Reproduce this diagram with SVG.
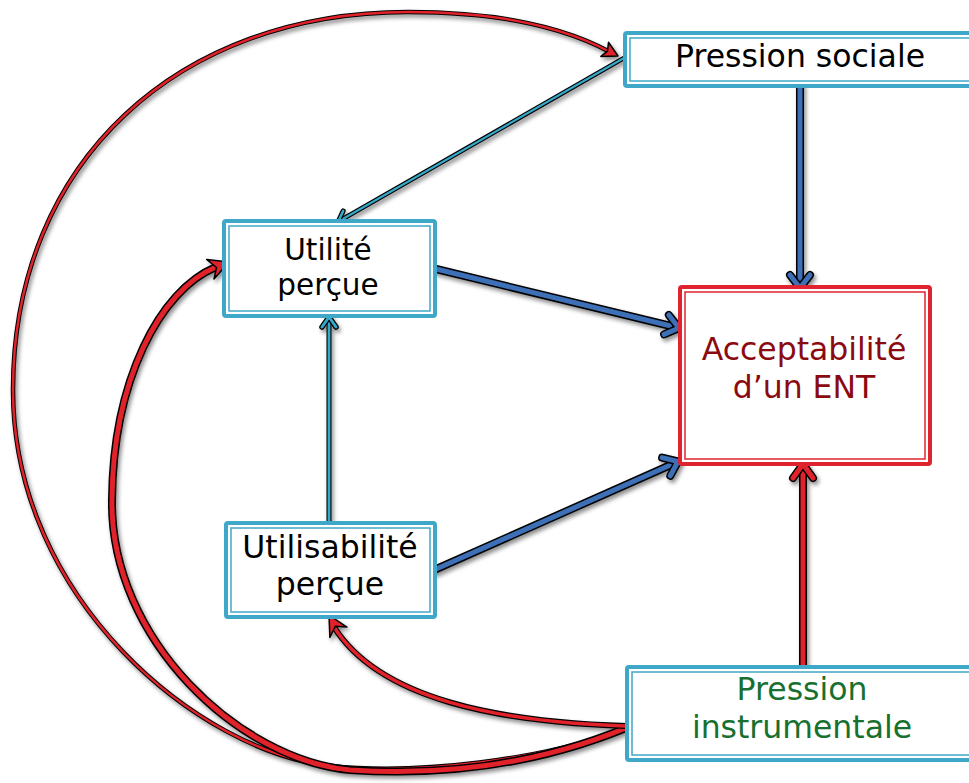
<svg xmlns="http://www.w3.org/2000/svg" width="969" height="783" viewBox="0 0 969 783">
<defs>
<filter id="sh" x="-10%" y="-10%" width="120%" height="120%">
<feDropShadow dx="2" dy="3" stdDeviation="2" flood-color="#000" flood-opacity="0.45"/>
</filter>
</defs>
<style>
.bo{fill:#fff;stroke:#3fa8c8;stroke-width:4}
.bi{fill:none;stroke:#3fa8c8;stroke-width:1.5}
.ro{fill:#fff;stroke:#e0242f;stroke-width:4}
.ri{fill:none;stroke:#e0242f;stroke-width:1.5}
.t{font-family:"DejaVu Sans","Liberation Sans",sans-serif;font-size:31.5px;text-anchor:middle;fill:#000}
.s{font-size:29.5px}
.k{fill:none;stroke:#000;stroke-linecap:round;stroke-linejoin:round}
.c{fill:none;stroke-linecap:round;stroke-linejoin:round}
.blue{stroke:#3d6fb6}
.red{stroke:#e1232c}
.cyan{stroke:#35a9c9}
.ah{stroke:#000;stroke-width:1.5;stroke-linejoin:round}
</style>
<rect width="969" height="783" fill="#fff"/>
<g id="connectors" filter="url(#sh)">
<path class="k" stroke-width="4.5" d="M626,729 C540,760 420,775 330,766 C200,752 13,600 13,390 C13,160 180,12 408,12 C490,12 560,25 610,52"/>
<path class="c red" stroke-width="2.5" d="M626,729 C540,760 420,775 330,766 C200,752 13,600 13,390 C13,160 180,12 408,12 C490,12 560,25 610,52"/>
<polygon class="ah" fill="#e1232c" points="618,56 600.9,56.4 607.5,51.2 608.5,42.3"/>
<path class="k" stroke-width="8" d="M626,728 C560,755 470,778 350,770 C240,760 110,640 112,500 C113,380 160,290 216,267"/>
<path class="c red" stroke-width="5" d="M626,728 C560,755 470,778 350,770 C240,760 110,640 112,500 C113,380 160,290 216,267"/>
<polygon class="ah" fill="#e1232c" points="229,262 214,279 216.5,267.5 206.6,259.4"/>
<path class="k" stroke-width="6" d="M626,726 C500,722 380,700 334,627"/>
<path class="c red" stroke-width="3.5" d="M626,726 C500,722 380,700 334,627"/>
<polygon class="ah" fill="#e1232c" points="329,615 346.9,627.1 335.3,626.2 329.9,637.5"/>
<path class="k" stroke-width="4.5" d="M624,58 L341,220"/>
<path class="c cyan" stroke-width="2.2" d="M624,58 L341,220"/>
<polyline class="k" stroke-width="5" points="343.2,210.9 338,222 350.2,223.1"/>
<polyline class="c cyan" stroke-width="2.5" points="343.2,210.9 338,222 350.2,223.1"/>
<path class="k" stroke-width="5" d="M329,521 L329,319"/>
<path class="c cyan" stroke-width="2.8" d="M329,521 L329,319"/>
<polyline class="k" stroke-width="5.5" points="322,327 329,317 336,327"/>
<polyline class="c cyan" stroke-width="3" points="322,327 329,317 336,327"/>
<path class="k" stroke-width="8" d="M432,268 L675,327"/>
<path class="c blue" stroke-width="5" d="M432,268 L675,327"/>
<polyline class="k" stroke-width="8" points="664.1,334.4 679,328 668.8,315"/>
<polyline class="c blue" stroke-width="5" points="664.1,334.4 679,328 668.8,315"/>
<path class="k" stroke-width="8" d="M434,570 L675,463"/>
<path class="c blue" stroke-width="5" d="M434,570 L675,463"/>
<polyline class="k" stroke-width="8" points="670.3,475.8 678,461.5 662.1,457.6"/>
<polyline class="c blue" stroke-width="5" points="670.3,475.8 678,461.5 662.1,457.6"/>
<path class="k" stroke-width="8" d="M800,86 L800,284"/>
<path class="c blue" stroke-width="5" d="M800,86 L800,284"/>
<polyline class="k" stroke-width="8" points="790,275 800,288 810,275"/>
<polyline class="c blue" stroke-width="5" points="790,275 800,288 810,275"/>
<path class="k" stroke-width="8" d="M803,666 L803,468"/>
<path class="c red" stroke-width="5" d="M803,666 L803,468"/>
<polyline class="k" stroke-width="8" points="793,478 803,464 813,478"/>
<polyline class="c red" stroke-width="5" points="793,478 803,464 813,478"/>
</g>
<g id="pression-sociale">
<rect class="bo" x="625" y="33" width="360" height="53" rx="2"/>
<rect class="bi" x="630" y="38" width="350" height="43"/>
<text class="t" x="800" y="67">Pression sociale</text>
</g>
<g id="utilite">
<rect class="bo" x="224" y="221" width="211" height="95" rx="2"/>
<rect class="bi" x="229" y="226" width="201" height="85"/>
<text class="t s" x="328" y="260">Utilité</text>
<text class="t s" x="328" y="295">perçue</text>
</g>
<g id="utilisabilite">
<rect class="bo" x="226" y="523" width="209" height="94" rx="2"/>
<rect class="bi" x="231" y="528" width="199" height="84"/>
<text class="t" x="330" y="558">Utilisabilité</text>
<text class="t" x="330" y="595">perçue</text>
</g>
<g id="acceptabilite">
<rect class="ro" x="680" y="287" width="250" height="177" rx="2"/>
<rect class="ri" x="685" y="292" width="240" height="167"/>
<text class="t" x="804" y="360" style="fill:#8a0a0f">Acceptabilité</text>
<text class="t" x="804" y="398" style="fill:#8a0a0f">d’un ENT</text>
</g>
<g id="pression-instrumentale">
<rect class="bo" x="627" y="667" width="360" height="93" rx="2"/>
<rect class="bi" x="632" y="672" width="350" height="83"/>
<text class="t" x="802" y="700" style="fill:#17702f">Pression</text>
<text class="t" x="802" y="738" style="fill:#17702f">instrumentale</text>
</g>
</svg>
